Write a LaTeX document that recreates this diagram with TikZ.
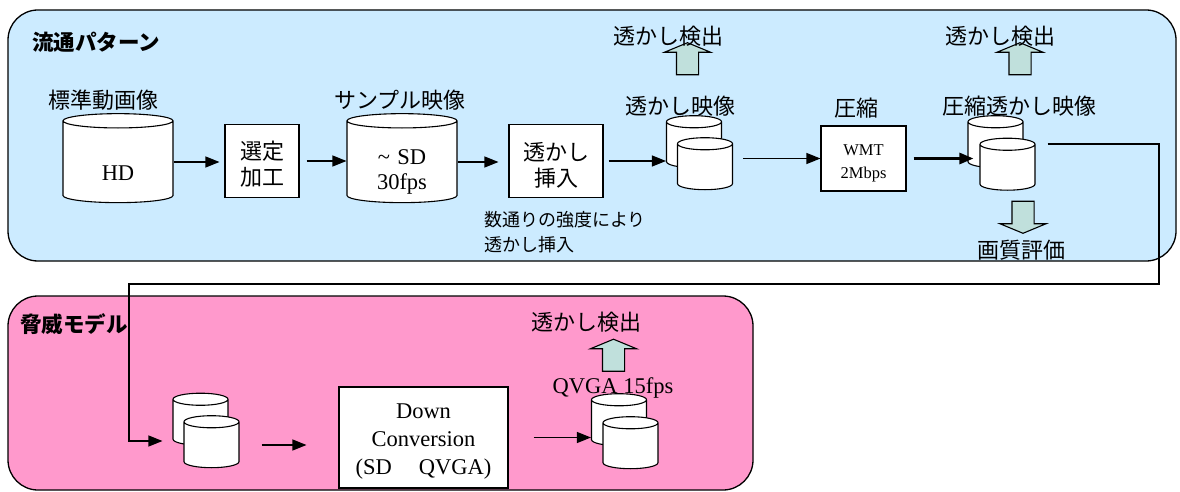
\documentclass[tikz,border=0pt]{standalone}
\usepackage{fontspec}
\setmainfont{Liberation Serif}
\newfontfamily\jp{Noto Sans CJK JP}
\usepackage{tikz}
\usetikzlibrary{shapes.geometric, shapes.arrows, arrows.meta, positioning}
\definecolor{FlowBlue}{HTML}{CCEBFF}
\definecolor{ThreatPink}{HTML}{FF99CC}
\definecolor{DetectTeal}{HTML}{C0E0DC}
\tikzset{
  % Panel styles
  panelbox/.style={draw=black, line width=1.3pt, rounded corners=30pt},
  paneltitle/.style={font=\jp\bfseries\fontsize{21.5}{24}\selectfont, anchor=west, inner sep=0pt},
  % Box styles
  procbox/.style={rectangle, draw=black, line width=1.1pt, fill=white, align=center, inner sep=0pt},
  jpbox/.style={procbox, font=\jp\fontsize{22}{26}\selectfont},
  % Storage styles
  datacyl/.style={cylinder, shape border rotate=90, draw=black, line width=1.1pt, fill=white, inner sep=0pt, align=center, font=\fontsize{22.5}{25}\selectfont},
  bigcyl/.style={datacyl, aspect=0.13, text width=110pt, minimum height=89pt},
  smallcyl/.style={datacyl, aspect=0.22, text width=55pt, minimum height=52pt},
  % Label styles
  jplabel/.style={font=\jp\fontsize{22}{24}\selectfont, inner sep=0pt},
  % Arrow styles
  flowarrow/.style={-{Triangle[length=14pt,width=11pt]}, line width=1.2pt},
  thickarrow/.style={-{Triangle[length=14pt,width=11pt]}, line width=2.8pt},
  detectup/.style={single arrow, shape border rotate=90, draw=black, line width=1.1pt, fill=DetectTeal, minimum height=32pt, single arrow head extend=12pt, single arrow head indent=0pt, single arrow tip angle=135, inner sep=0pt},
  detectdown/.style={detectup, shape border rotate=270}
}
\newcommand{\shaftbox}{\phantom{\rule{21pt}{21pt}}}
\begin{document}
\begin{tikzpicture}[x=1pt, y=-1pt]
  \useasboundingbox (0,0) rectangle (1180,492);
  % Panels
  \draw[panelbox, fill=FlowBlue] (8,10) rectangle (1176,261);
  \draw[panelbox, fill=ThreatPink] (8,296) rectangle (753,490);
  \node[paneltitle] (flowtitle) at (32,42) {流通パターン};
  \node[paneltitle] (threattitle) at (20,324) {脅威モデル};

  % Distribution pattern
  \node[bigcyl] (hd) at (118,162) {\rule{0pt}{37pt}HD};
  \node[jplabel] (hdlabel) at (103,100) {標準動画像};
  \node[jpbox, minimum width=74pt, minimum height=73pt] (select) at (262,161) {\rule{0pt}{25pt}選定\\加工};
  \node[bigcyl] (sample) at (402,162) {\rule{0pt}{35pt}\textasciitilde\ SD\\30fps};
  \node[jplabel] (samplelabel) at (400,100) {サンプル映像};
  \node[jpbox, minimum width=94pt, minimum height=73pt] (insert) at (556,161) {\rule{0pt}{27pt}透かし\\挿入};
  \node[jplabel, font=\jp\fontsize{18}{25}\selectfont, align=left, anchor=north west] (insertnote) at (484,211) {数通りの強度により\\透かし挿入};

  \node[smallcyl] (wmback) at (694,145) {};
  \node[smallcyl] (wmfront) at (705,167) {};
  \node[jplabel] (wmlabel) at (680,106) {透かし映像};
  \node[detectup] (wmdetect) at (687.5,61) {\shaftbox};
  \node[jplabel] (wmdetectlabel) at (668,36) {透かし検出};

  \node[procbox, minimum width=85pt, minimum height=65pt, font=\fontsize{16.5}{23}\selectfont] (wmt) at (863.5,158.5) {\rule{0pt}{21pt}WMT\\2Mbps};
  \node[jplabel] (wmtlabel) at (856,108) {圧縮};
  \node[smallcyl] (cmpback) at (995.5,145) {};
  \node[smallcyl] (cmpfront) at (1007.5,167.5) {};
  \node[jplabel] (cmplabel) at (1019,106) {圧縮透かし映像};
  \node[detectup] (cmpdetect) at (1020,61) {\shaftbox};
  \node[jplabel] (cmpdetectlabel) at (1000,36) {透かし検出};
  \node[detectdown] (quality) at (1023,215) {\shaftbox};
  \node[jplabel] (qualitylabel) at (1021,250) {画質評価};

  \draw[flowarrow, shorten >=5pt] (hd.east) -- (hd.east -| select.west);
  \draw[flowarrow, shorten <=7pt] (select.east) -- (select.east -| sample.west);
  \draw[flowarrow, shorten >=10pt] (sample.east) -- (sample.east -| insert.west);
  \draw[flowarrow, shorten <=5pt] (insert.east) -- (insert.east -| wmback.west);
  \draw[flowarrow, shorten <=10pt] (wmfront.east |- wmt.west) -- (wmt.west);
  \draw[thickarrow, shorten <=7pt, shorten >=6pt] (wmt.east) -- (wmt.east -| cmpfront.west);

  % Threat model
  \node[smallcyl] (tmback) at (200.5,422.5) {};
  \node[smallcyl] (tmfront) at (211.5,445) {};
  \node[procbox, minimum width=169pt, minimum height=101pt, font=\fontsize{22.5}{28}\selectfont] (downconv) at (423.5,437.5) {\rule{0pt}{23pt}Down\\Conversion\\(SD\hspace{1.2em}QVGA)};
  \node[font=\fontsize{22.5}{25}\selectfont, inner sep=0pt] (qvlabel) at (613,388) {QVGA 15fps};
  \node[smallcyl] (qvback) at (619,423) {};
  \node[smallcyl] (qvfront) at (630.5,446) {};
  \node[detectup] (qvdetect) at (613.5,357.5) {\shaftbox};
  \node[jplabel] (qvdetectlabel) at (586,322) {透かし検出};

  \draw[flowarrow, shorten <=22pt, shorten >=32pt] (tmfront.east) -- (tmfront.east -| downconv.west);
  \draw[flowarrow, shorten <=25pt] (downconv.east) -- (downconv.east -| qvback.west);

  % Hand-over from compressed video to threat model
  \coordinate (loopright) at (1159,144);
  \coordinate (loopdown) at (1159,284);
  \coordinate (loopleft) at (129,284);
  \coordinate (threatin) at (129,441);
  \draw[flowarrow, shorten >=10pt] ([xshift=12pt]cmpfront.east |- loopright) -- (loopright) -- (loopdown) -- (loopleft) -- (threatin) -- (threatin -| tmback.west);
\end{tikzpicture}
\end{document}
